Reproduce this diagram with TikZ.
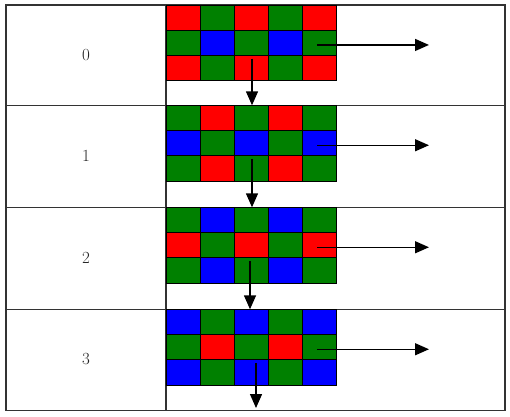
\documentclass[tikz,border=0pt]{standalone}
\usepackage{xcolor,tikz}
\usetikzlibrary{arrows.meta,calc}
\definecolor{ink}{HTML}{000000}
\definecolor{rahmen}{HTML}{333333}
\definecolor{ziffer}{HTML}{222222}
\definecolor{rot}{HTML}{FF0000}
\definecolor{gruen}{HTML}{008000}
\definecolor{blau}{HTML}{0000FF}
\newcommand{\ziffernfont}{\fontsize{17}{20}\selectfont}
\tikzset{zelle/.style={draw=ink,line width=0.9pt,minimum width=34pt,minimum height=25.3pt,
    inner sep=0,outer sep=0},
  tabelle/.style={rahmen,line width=1.5pt},
  pfeil/.style={ink,line width=1.4pt,-{Triangle[length=14pt,width=12pt]}},
  phase/.style={inner sep=0,text=ziffer,font=\ziffernfont}}
\begin{document}
\begin{tikzpicture}[x=1pt,y=-1pt]
\useasboundingbox (0,0) rectangle (510,416);
\draw[tabelle] (6,5) rectangle (505,410.5);
\draw[tabelle] (166,5) -- (166,410.5);
\foreach \yy in {105.3,207.3,309.3} \draw[tabelle] (6,\yy) -- (505,\yy);
\foreach \k/\top/\unten/\dx/\pa/\pb/\pc/\pd in {0/5/105.3/1/rot/gruen/gruen/blau,
    1/105.3/207.3/1/gruen/rot/blau/gruen,
    2/207.3/309.3/-1/gruen/blau/rot/gruen,
    3/309.3/408/5/blau/gruen/gruen/rot}{
  \node[phase] (lab\k) at (86,{(\top+\unten)/2}) {\k};
  \foreach \i in {0,1,2}{
    \foreach \j in {0,...,4}{
      \ifodd\i \ifodd\j \def\farbe{\pd}\else\def\farbe{\pc}\fi
      \else \ifodd\j \def\farbe{\pb}\else\def\farbe{\pa}\fi\fi
      \node[zelle,fill=\farbe] (c\k-\i-\j) at ({183+34*\j},{\top+12.65+25.3*\i}) {};
    }
  }
  \coordinate (h\k) at (429,0 |- c\k-1-4.center);
  \coordinate (v\k) at ([xshift=\dx pt]c\k-2-2.center |- 0,\unten);
  \draw[pfeil] ([xshift=-2pt,yshift=-2pt]c\k-1-4.center) -- ([yshift=-2pt]h\k);
  \draw[pfeil] ([xshift=\dx pt,yshift=-3pt]c\k-2-2.north) -- (v\k);
}
\end{tikzpicture}
\end{document}
